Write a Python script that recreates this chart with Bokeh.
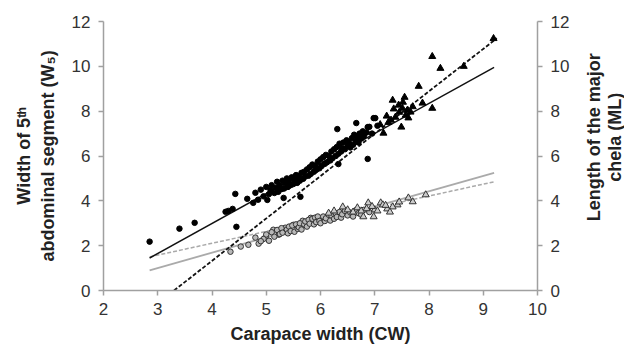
import math
from bokeh.plotting import figure
from bokeh.layouts import row
from bokeh.models import Range1d, LinearAxis, FixedTicker
from bokeh.core.properties import value
from bokeh.embed import file_html
from bokeh.resources import INLINE

# ---- data ----
x_ticks = [2, 3, 4, 5, 6, 7, 8, 9, 10]
y_ticks = [0, 2, 4, 6, 8, 10, 12]

# W5 vs CW, juveniles (filled circles)
w5_circ_x = [2.85, 3.40, 3.68, 4.45, 4.43, 4.25, 4.38, 4.30, 6.87, 6.33, 5.63, 5.02, 5.32, 6.31, 6.66,
             4.65, 4.80, 4.76, 4.85, 4.90, 4.95, 5.00, 5.05, 5.08, 5.10, 5.15, 5.18, 5.20, 5.22, 5.25,
             5.28, 5.30, 5.33, 5.35, 5.38, 5.40, 5.42, 5.45, 5.47, 5.50, 5.52, 5.55, 5.57, 5.60, 5.62,
             5.65, 5.68, 5.70, 5.72, 5.75, 5.78, 5.80, 5.82, 5.85, 5.88, 5.90, 5.92, 5.95, 5.98, 6.00,
             6.02, 6.05, 6.08, 6.10, 6.12, 6.15, 6.18, 6.20, 6.22, 6.25, 6.28, 6.30, 6.33, 6.35, 6.38,
             6.40, 6.42, 6.45, 6.48, 6.50, 6.52, 6.55, 6.58, 6.60, 6.62, 6.65, 6.68, 6.70, 6.72, 6.75,
             6.78, 6.80, 6.85, 6.90, 6.95, 6.98, 6.87, 7.01, 7.05]
w5_circ_y = [2.18, 2.76, 3.02, 2.84, 4.31, 3.51, 3.64, 3.55, 5.87, 5.64, 4.18, 4.04, 4.13, 7.20, 7.47,
             4.09, 4.36, 3.91, 4.05, 4.50, 4.20, 4.62, 4.30, 4.48, 4.70, 4.35, 4.58, 4.85, 4.40, 4.68,
             4.52, 4.90, 4.55, 4.78, 5.00, 4.62, 4.85, 4.70, 5.05, 4.75, 4.95, 5.15, 4.80, 5.10, 4.90,
             5.25, 4.98, 5.30, 5.08, 5.40, 5.12, 5.50, 5.20, 5.62, 5.30, 5.55, 5.38, 5.75, 5.45, 5.85,
             5.55, 5.95, 5.65, 6.05, 5.72, 6.00, 5.80, 6.20, 5.90, 6.30, 6.00, 6.40, 6.10, 6.55, 6.20,
             6.35, 6.60, 6.30, 6.70, 6.45, 6.62, 6.38, 6.80, 6.50, 6.95, 6.65, 6.85, 6.60, 7.00, 6.78,
             7.10, 6.88, 7.05, 7.30, 7.00, 7.69, 7.29, 7.69, 7.35]

# W5 vs CW, adults (filled triangles)
w5_tri_x = [9.19, 8.06, 8.21, 8.64, 7.81, 7.33, 7.55, 7.88, 8.06, 7.49, 7.16, 7.22, 7.44, 7.51,
            7.60, 7.38, 7.57, 7.66, 7.30, 7.45, 7.35, 7.70, 7.10, 7.25, 7.52, 7.62]
w5_tri_y = [11.24, 10.44, 9.91, 10.00, 9.11, 8.49, 8.62, 8.36, 8.13, 7.29, 7.02, 7.78, 8.27, 8.13,
            8.04, 7.73, 7.82, 7.96, 7.60, 7.95, 8.10, 8.20, 7.40, 7.50, 8.40, 7.70]

# ML vs CW, juveniles (open circles)
ml_circ_x = [4.34, 4.53, 4.67, 4.86, 4.80, 4.99, 5.13, 5.23, 5.35, 5.50, 5.67, 5.82, 5.05, 5.10,
             5.15, 5.20, 5.25, 5.28, 5.30, 5.38, 5.40, 5.42, 5.45, 5.48, 5.52, 5.55, 5.58, 5.60,
             5.62, 5.65, 5.70, 5.72, 5.75, 5.78, 5.80, 5.85, 5.88, 5.90, 5.92, 5.95, 5.98, 6.00,
             6.05, 6.08, 6.10, 6.15, 6.18, 6.20, 6.25, 6.28, 6.30, 6.35, 6.38, 6.40, 6.45, 6.50,
             6.55, 6.60, 6.65, 6.70, 6.75, 6.80, 6.90, 4.95, 5.00, 4.90]
ml_circ_y = [1.73, 1.96, 2.04, 2.09, 2.36, 2.40, 2.71, 2.49, 2.80, 2.93, 3.11, 3.24, 2.22, 2.60,
             2.40, 2.70, 2.52, 2.78, 2.58, 2.72, 2.55, 2.85, 2.65, 2.90, 2.62, 2.95, 2.75, 2.82,
             3.00, 2.72, 2.95, 3.08, 2.85, 3.15, 2.98, 3.20, 2.95, 3.25, 3.05, 3.30, 3.10, 3.00,
             3.30, 3.10, 3.22, 3.38, 3.12, 3.35, 3.20, 3.45, 3.28, 3.50, 3.25, 3.40, 3.55, 3.35,
             3.48, 3.30, 3.58, 3.45, 3.38, 3.60, 3.50, 2.30, 2.50, 2.20]

# ML vs CW, adults (open triangles)
ml_tri_x = [7.94, 7.70, 7.62, 7.42, 7.23, 7.11, 6.88, 6.98, 6.79, 6.68, 6.41, 7.15, 7.33, 7.00,
            6.95, 7.05, 7.20, 6.60, 6.85, 7.28, 6.50, 7.45, 6.75, 6.15, 6.25]
ml_tri_y = [4.27, 3.96, 4.13, 3.82, 3.64, 3.91, 3.91, 3.29, 3.29, 3.69, 3.73, 3.82, 3.73, 3.60,
            3.75, 3.55, 3.80, 3.50, 3.65, 3.50, 3.60, 3.95, 3.55, 3.45, 3.55]

# regression lines (end points)
fit_w5_juv_x = [2.85, 9.20]
fit_w5_juv_y = [1.45, 9.95]
fit_w5_ad_x = [3.30, 9.25]
fit_w5_ad_y = [0.00, 11.25]
fit_ml_juv_x = [2.85, 9.20]
fit_ml_juv_y = [0.90, 5.25]
fit_ml_ad_x = [2.85, 9.20]
fit_ml_ad_y = [1.50, 4.85]

x_title = "Carapace width (CW)"
y_title_left = "Width of 5ᵗʰ\nabdominal segment (W₅)"
y_title_right = "Length of the major\nchela (ML)"

FONT = "Liberation Sans"
AXIS_COL = "#a0a0a0"
TXT_COL = "#333333"

p = figure(width=572, height=346, output_backend="svg", toolbar_location=None,
           x_range=Range1d(2, 10), y_range=Range1d(0, 12),
           min_border_left=103, min_border_right=35, min_border_top=21, min_border_bottom=55)
p.extra_y_ranges = {"right": Range1d(0, 12)}
p.outline_line_color = None
p.xgrid.visible = False
p.ygrid.visible = False
p.background_fill_color = "white"
p.border_fill_color = "white"

right_axis = LinearAxis(y_range_name="right")
p.add_layout(right_axis, "right")

p.xaxis.axis_label = x_title
p.yaxis[0].axis_label = y_title_left

for ax in [p.xaxis[0], p.yaxis[0], right_axis]:
    ax.axis_line_color = AXIS_COL
    ax.axis_line_width = 1.5
    ax.major_tick_line_color = AXIS_COL
    ax.major_tick_line_width = 1.5
    ax.major_tick_out = 5
    ax.major_tick_in = 0
    ax.minor_tick_line_color = None
    ax.major_label_text_font = FONT
    ax.major_label_text_font_size = "17px"
    ax.major_label_text_color = TXT_COL
    ax.axis_label_text_font = FONT
    ax.axis_label_text_font_size = "18px"
    ax.axis_label_text_font_style = "bold"
    ax.axis_label_text_color = "#222222"

p.xaxis[0].ticker = FixedTicker(ticks=x_ticks)
p.yaxis[0].ticker = FixedTicker(ticks=y_ticks)
right_axis.ticker = FixedTicker(ticks=y_ticks)
p.xaxis[0].major_label_standoff = 7
p.xaxis[0].axis_label_standoff = 6
p.yaxis[0].major_label_standoff = 8
p.yaxis[0].axis_label_standoff = 11
right_axis.major_label_standoff = 8

# regression lines
p.line(fit_ml_juv_x, fit_ml_juv_y, line_color="#aaaaaa", line_width=1.8)
p.line(fit_ml_ad_x, fit_ml_ad_y, line_color="#aaaaaa", line_width=1.5, line_dash="4 2")
p.line(fit_w5_juv_x, fit_w5_juv_y, line_color="#111111", line_width=1.5)
p.line(fit_w5_ad_x, fit_w5_ad_y, line_color="#111111", line_width=1.8, line_dash="4 2")

# points
p.scatter(ml_circ_x, ml_circ_y, marker="circle", size=5.5, fill_color="#b8b8b8",
          line_color="#333333", line_width=1)
p.scatter(ml_tri_x, ml_tri_y, marker="triangle", size=7, fill_color="#cccccc",
          line_color="#333333", line_width=1)
p.scatter(w5_circ_x, w5_circ_y, marker="circle", size=5.5, fill_color="black", line_color="black")
p.scatter(w5_tri_x, w5_tri_y, marker="triangle", size=7, fill_color="black", line_color="black")

# side panel carrying the right-hand axis title (reads bottom-to-top)
side = figure(width=52, height=346, output_backend="svg", toolbar_location=None,
              x_range=Range1d(0, 52), y_range=Range1d(0, 346),
              min_border=0, x_axis_type=None, y_axis_type=None)
side.outline_line_color = None
side.xgrid.visible = False
side.ygrid.visible = False
side.background_fill_color = "white"
side.border_fill_color = "white"
side.text(x=[32], y=[197], text=[y_title_right], angle=math.pi / 2,
          text_align="center", text_baseline="middle",
          text_font=value(FONT), text_font_size="18px", text_font_style="bold",
          text_color="#222222", text_line_height=1.05)

layout = row(p, side, spacing=0)
open("out.html", "w").write(file_html(layout, INLINE))
